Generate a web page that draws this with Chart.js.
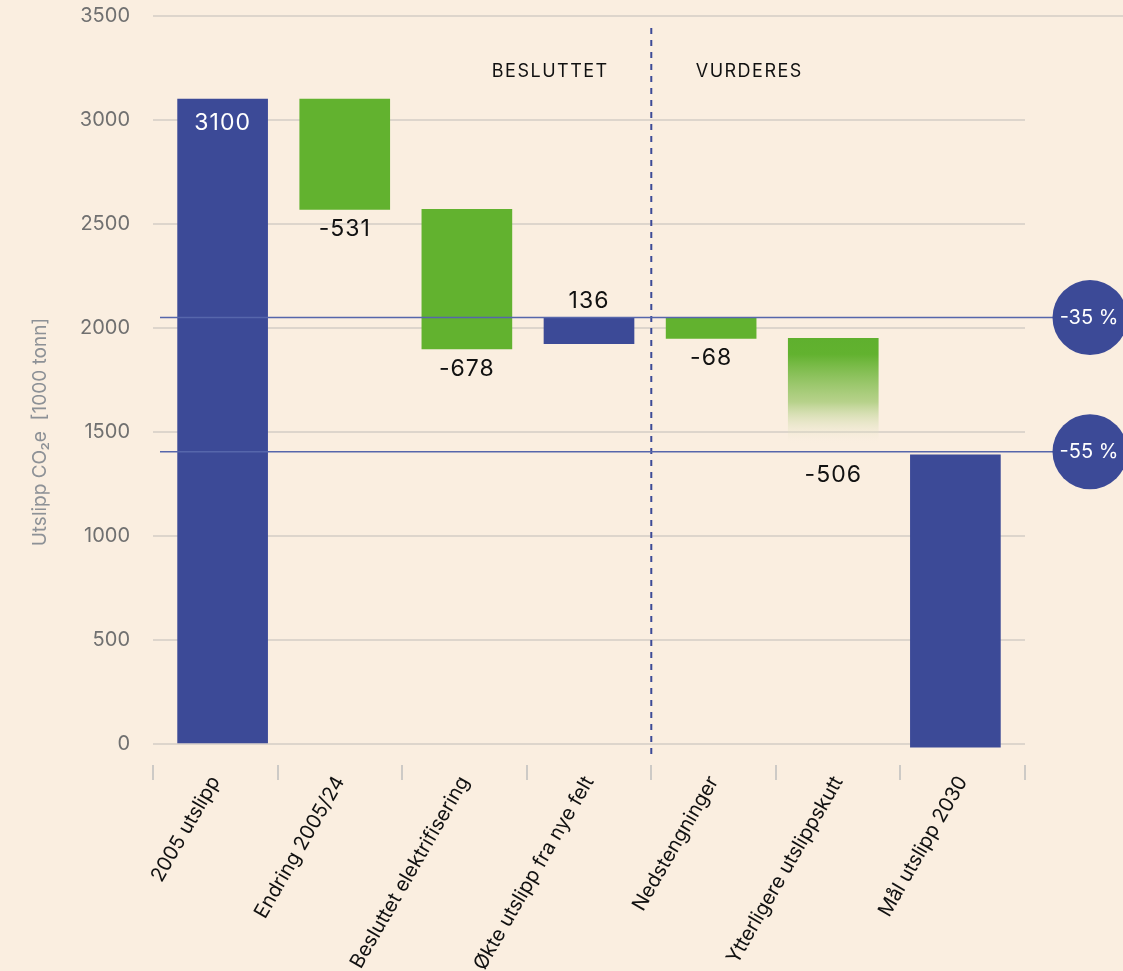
<!DOCTYPE html>
<html>
<head>
<meta charset="utf-8">
<script src="https://cdn.jsdelivr.net/npm/chart.js@4"></script>
<style>
  html, body { margin: 0; padding: 0; background: #faeee0; }
  #wrap { width: 1123px; height: 971px; }
</style>
</head>
<body>
<div id="wrap"><canvas id="waterfall" width="1123" height="971"></canvas></div>
<script>
// categories and bar ranges
const categories = ["2005 utslipp", "Endring 2005/24", "Besluttet elektrifisering", "Økte utslipp fra nye felt",
                    "Nedstengninger", "Ytterligere utslippskutt", "Mål utslipp 2030"];
const barLow = [0, 2570, 1900, 1925, 1950, 1440, -15];
const barHigh = [3100, 3100, 2570, 2050, 2050, 1950, 1390];
const barKind = ["total", "down", "down", "up", "down", "fade", "total"];
const valueLabels = ["3100", "-531", "-678", "136", "-68", "-506", ""];
const yTicks = [0, 500, 1000, 1500, 2000, 2500, 3000, 3500];

// target lines
const targetValues = [2050, 1405];
const targetLabels = ["-35 %", "-55 %"];
const groupLabels = ["BESLUTTET", "VURDERES"];

const BLUE = "#3c4a97";
const GREEN = "#62b22f";
const BG = "#faeee0";
const FONT = "Inter, 'Noto Sans', sans-serif";

function barColor(ctx) {
    const kind = barKind[ctx.dataIndex];
    if (kind === "total" || kind === "up") return BLUE;
    if (kind === "fade") {
        const area = ctx.chart.chartArea;
        if (!area) return GREEN;
        const y = ctx.chart.scales.y;
        const top = y.getPixelForValue(barHigh[ctx.dataIndex]);
        const bottom = y.getPixelForValue(barLow[ctx.dataIndex]);
        const g = ctx.chart.ctx.createLinearGradient(0, top, 0, bottom);
        g.addColorStop(0, "rgba(95,176,46,1)");
        g.addColorStop(0.15, "rgba(98,178,47,1)");
        g.addColorStop(0.6, "rgba(160,200,110,0.75)");
        g.addColorStop(1, "rgba(250,238,224,0)");
        return g;
    }
    return GREEN;
}

const decorations = {
    id: "decorations",
    beforeDraw(chart) {
        const c = chart.ctx;
        c.save();
        c.fillStyle = BG;
        c.fillRect(0, 0, chart.width, chart.height);
        c.restore();
    },
    beforeDatasetsDraw(chart) {
        const c = chart.ctx, x = chart.scales.x, y = chart.scales.y, a = chart.chartArea;
        c.save();
        // top gridline runs to the right edge
        c.strokeStyle = "#ddd5cc";
        c.lineWidth = 2;
        c.beginPath();
        c.moveTo(a.right, y.getPixelForValue(3500));
        c.lineTo(chart.width, y.getPixelForValue(3500));
        c.stroke();
        // category tick marks below the axis
        c.strokeStyle = "#cdcac6";
        for (let i = 0; i <= categories.length; i++) {
            const px = Math.round(x.getPixelForValue(i - 0.5));
            c.beginPath();
            c.moveTo(px, a.bottom + 21);
            c.lineTo(px, a.bottom + 36);
            c.stroke();
        }
        // dashed divider
        const dx = x.getPixelForValue(3.5);
        c.strokeStyle = BLUE;
        c.lineWidth = 2;
        c.setLineDash([6, 6]);
        c.beginPath();
        c.moveTo(dx, 28);
        c.lineTo(dx, a.bottom + 12);
        c.stroke();
        c.setLineDash([]);
        // group headings
        c.fillStyle = "#111";
        c.font = "18px " + FONT;
        c.textAlign = "center";
        c.textBaseline = "middle";
        if (c.letterSpacing !== undefined) c.letterSpacing = "1.5px";
        c.fillText(groupLabels[0], dx - 101, 72);
        c.fillText(groupLabels[1], dx + 98, 72);
        if (c.letterSpacing !== undefined) c.letterSpacing = "0px";
        // y axis title
        c.save();
        c.translate(40, 432);
        c.rotate(-Math.PI / 2);
        c.fillStyle = "#8d9196";
        c.font = "19px " + FONT;
        c.textAlign = "center";
        c.fillText("Utslipp CO\u2082e  [1000 tonn]", 0, 0);
        c.restore();
        c.restore();
    },
    afterDatasetsDraw(chart) {
        const c = chart.ctx, xb = chart.scales.xb, y = chart.scales.y;
        c.save();
        // value labels
        c.font = "23px " + FONT;
        c.textAlign = "center";
        c.textBaseline = "middle";
        if (c.letterSpacing !== undefined) c.letterSpacing = "1px";
        categories.forEach((cat, i) => {
            const label = valueLabels[i];
            if (!label) return;
            const cx = xb.getPixelForValue(i);
            const top = y.getPixelForValue(barHigh[i]);
            const bottom = y.getPixelForValue(barLow[i]);
            const kind = barKind[i];
            if (kind === "total") {
                c.fillStyle = "#fff";
                c.fillText(label, cx, top + 24);
            } else if (kind === "up") {
                c.fillStyle = "#111";
                c.fillText(label, cx, top - 17);
            } else if (kind === "fade") {
                c.fillStyle = "#111";
                c.fillText(label, cx, bottom + 31);
            } else {
                c.fillStyle = "#111";
                c.fillText(label, cx, bottom + 20);
            }
        });
        if (c.letterSpacing !== undefined) c.letterSpacing = "0px";
        // target lines and circles
        targetValues.forEach((v, i) => {
            const py = y.getPixelForValue(v);
            c.strokeStyle = "#5666ab";
            c.lineWidth = 1.5;
            c.beginPath();
            c.moveTo(160, py);
            c.lineTo(1060, py);
            c.stroke();
            c.fillStyle = BLUE;
            c.beginPath();
            c.arc(1090, py, 37.5, 0, Math.PI * 2);
            c.fill();
            c.fillStyle = "#fff";
            c.font = "20px " + FONT;
            c.fillText(targetLabels[i], 1089, py);
        });
        c.restore();
    }
};

new Chart(document.getElementById("waterfall").getContext("2d"), {
    type: "bar",
    data: {
        labels: categories,
        datasets: [{
            xAxisID: "xb",
            data: barLow.map((lo, i) => ({ x: i, y: [lo, barHigh[i]] })),
            backgroundColor: barColor,
            barThickness: 90,
            clip: false
        }]
    },
    options: {
        responsive: false,
        animation: false,
        layout: { padding: { top: 0, right: 98, left: 0, bottom: 0 } },
        plugins: { legend: { display: false }, tooltip: { enabled: false } },
        scales: {
            x: {
                type: "category",
                offset: true,
                grid: { display: false },
                border: { display: false },
                ticks: {
                    color: "#111",
                    font: { family: FONT, size: 20 },
                    maxRotation: 60,
                    minRotation: 60,
                    padding: 20,
                    autoSkip: false
                },
                afterFit(s) { s.height = 227; }
            },
            xb: {
                type: "linear",
                display: false,
                offset: false,
                grid: { offset: false },
                min: -0.57,
                max: 6.57
            },
            y: {
                min: 0,
                max: 3500,
                afterBuildTicks(s) { s.ticks = yTicks.map(v => ({ value: v })); },
                grid: { color: "#ddd5cc", lineWidth: 2, drawTicks: false },
                border: { display: false },
                ticks: {
                    color: "#707070",
                    font: { family: FONT, size: 20 },
                    padding: 23,
                    callback: v => String(v)
                },
                afterFit(s) { s.width = 153; s.paddingTop = 16; }
            }
        }
    },
    plugins: [decorations]
});
</script>
</body>
</html>
